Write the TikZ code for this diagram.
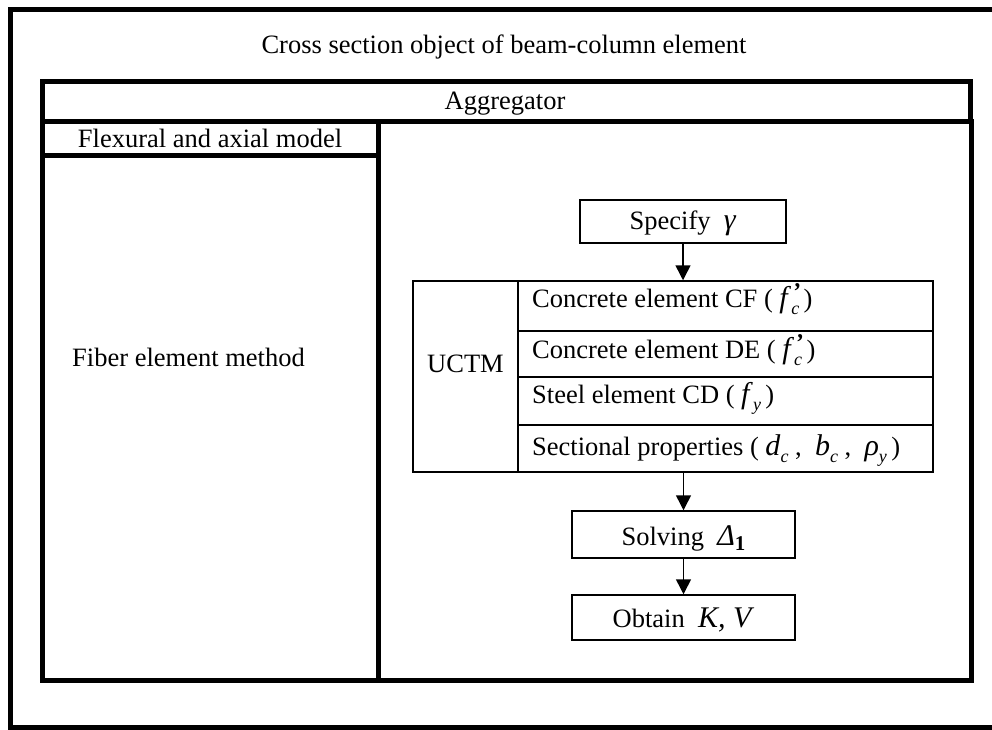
\RequirePackage{fix-cm}
\documentclass[tikz,border=0pt]{standalone}
\usepackage{fontspec}
\setmainfont{Liberation Serif}
\usetikzlibrary{arrows.meta}

%% italic letters with lowered index, as in the figure
\newcommand{\mv}[1]{{\fontsize{30}{31}\selectfont\textit{#1}}}
\newcommand{\idx}[1]{\raisebox{-0.3em}{\fontsize{18}{20}\selectfont\textit{#1}}}
\newcommand{\pidx}[1]{\rlap{\kern1pt\raisebox{0.28em}{\fontsize{24}{24}\selectfont\textbf{\textit{'}}}}\idx{#1}}

\begin{document}
\begin{tikzpicture}[
    x=1pt, y=-1pt,
    font=\fontsize{26.5}{31}\selectfont,
    %% Pixel grid of the figure: 992 x 729, origin at top left, y downwards
    %% Panels:   Aggregator x = 42..970,  left column x = 42..378,  right x = 378..971
    %% Table:    x = 413 | 518 | 933,   rows y = 281 331 377 425 472
    panel/.style={draw, line width=5pt, inner sep=0pt},
    flowbox/.style={draw, line width=1.5pt, inner sep=0pt},
    cellbox/.style={draw, line width=1.5pt, inner sep=0pt,
                    minimum width=415pt},
    rowtext/.style={anchor=base west, inner sep=0pt},
    flowarrow/.style={line width=1.5pt,
                      -{Triangle[length=15pt, width=15pt]}},
]

\useasboundingbox (0,0) rectangle (992,729);

%% ── Frames ───────────────────────────────────────────────────────────────
\node[panel, minimum width=1010pt, minimum height=718pt] (outer) at (515,368.5) {};
\node[anchor=base] (title) at (504,53) {Cross section object of beam-column element};

\node[panel, minimum width=928pt, minimum height=40pt] (agg) at (506,101) {};
\node[anchor=base] (aggtext) at (505,109) {Aggregator};

\node[panel, minimum width=336pt, minimum height=34.5pt] (flex) at (210,138.25)
    {Flexural and axial model};
\node[panel, minimum width=336pt, minimum height=524.5pt] (fibcol) at (210,417.75) {};
\node[rowtext] (fibtext) at (72,366) {Fiber element method};

\node[panel, minimum width=593pt, minimum height=559pt] (right) at (674.5,400.5) {};

%% ── Flow chart ───────────────────────────────────────────────────────────
\node[flowbox, minimum width=206pt, minimum height=43pt] (spec) at (683,221.5) {};
\node[anchor=base] (spectext) at (683,229) {Specify \ \mv{γ}};

%% UCTM table
\node[flowbox, minimum width=105pt, minimum height=191pt] (uctm) at (465.5,376.5) {};
\node[anchor=base] (uctmtext) at (465.5,372) {UCTM};

\node[cellbox, minimum height=50pt] (r1) at (725.5,306) {};
\node[cellbox, minimum height=46pt] (r2) at (725.5,354) {};
\node[cellbox, minimum height=48pt] (r3) at (725.5,401) {};
\node[cellbox, minimum height=47pt] (r4) at (725.5,448.5) {};

\node[rowtext] (t1) at (532,307) {Concrete element CF ( \mv{f}\pidx{c}\,)};
\node[rowtext] (t2) at (532,358) {Concrete element DE ( \mv{f}\pidx{c}\,)};
\node[rowtext] (t3) at (532,403) {Steel element CD ( \mv{f}\idx{y}\,)};
\node[rowtext] (t4) at (532,455)
    {Sectional properties ( \mv{d}\idx{c} ,\ \ \mv{b}\idx{c} ,\ \ \mv{ρ}\idx{y}\,)};

\node[flowbox, minimum width=223pt, minimum height=47pt] (solve) at (683.5,534.5) {};
\node[anchor=base] (solvetext) at (683.5,545)
    {Solving \ \mv{Δ}\raisebox{-0.2em}{\fontsize{21}{21}\selectfont\textbf{1}}};
\node[flowbox, minimum width=223pt, minimum height=45pt] (obtain) at (683.5,617.5) {};
\node[anchor=base] (obtaintext) at (683.5,627) {Obtain \ \mv{K, V}};

%% ── Arrows ───────────────────────────────────────────────────────────────
\draw[flowarrow] (spec.south) -- (spec.south |- r1.north);
\draw[flowarrow] (solve.north |- r4.south) -- (solve.north);
\draw[flowarrow] (solve.south) -- (obtain.north);

\end{tikzpicture}
\end{document}
